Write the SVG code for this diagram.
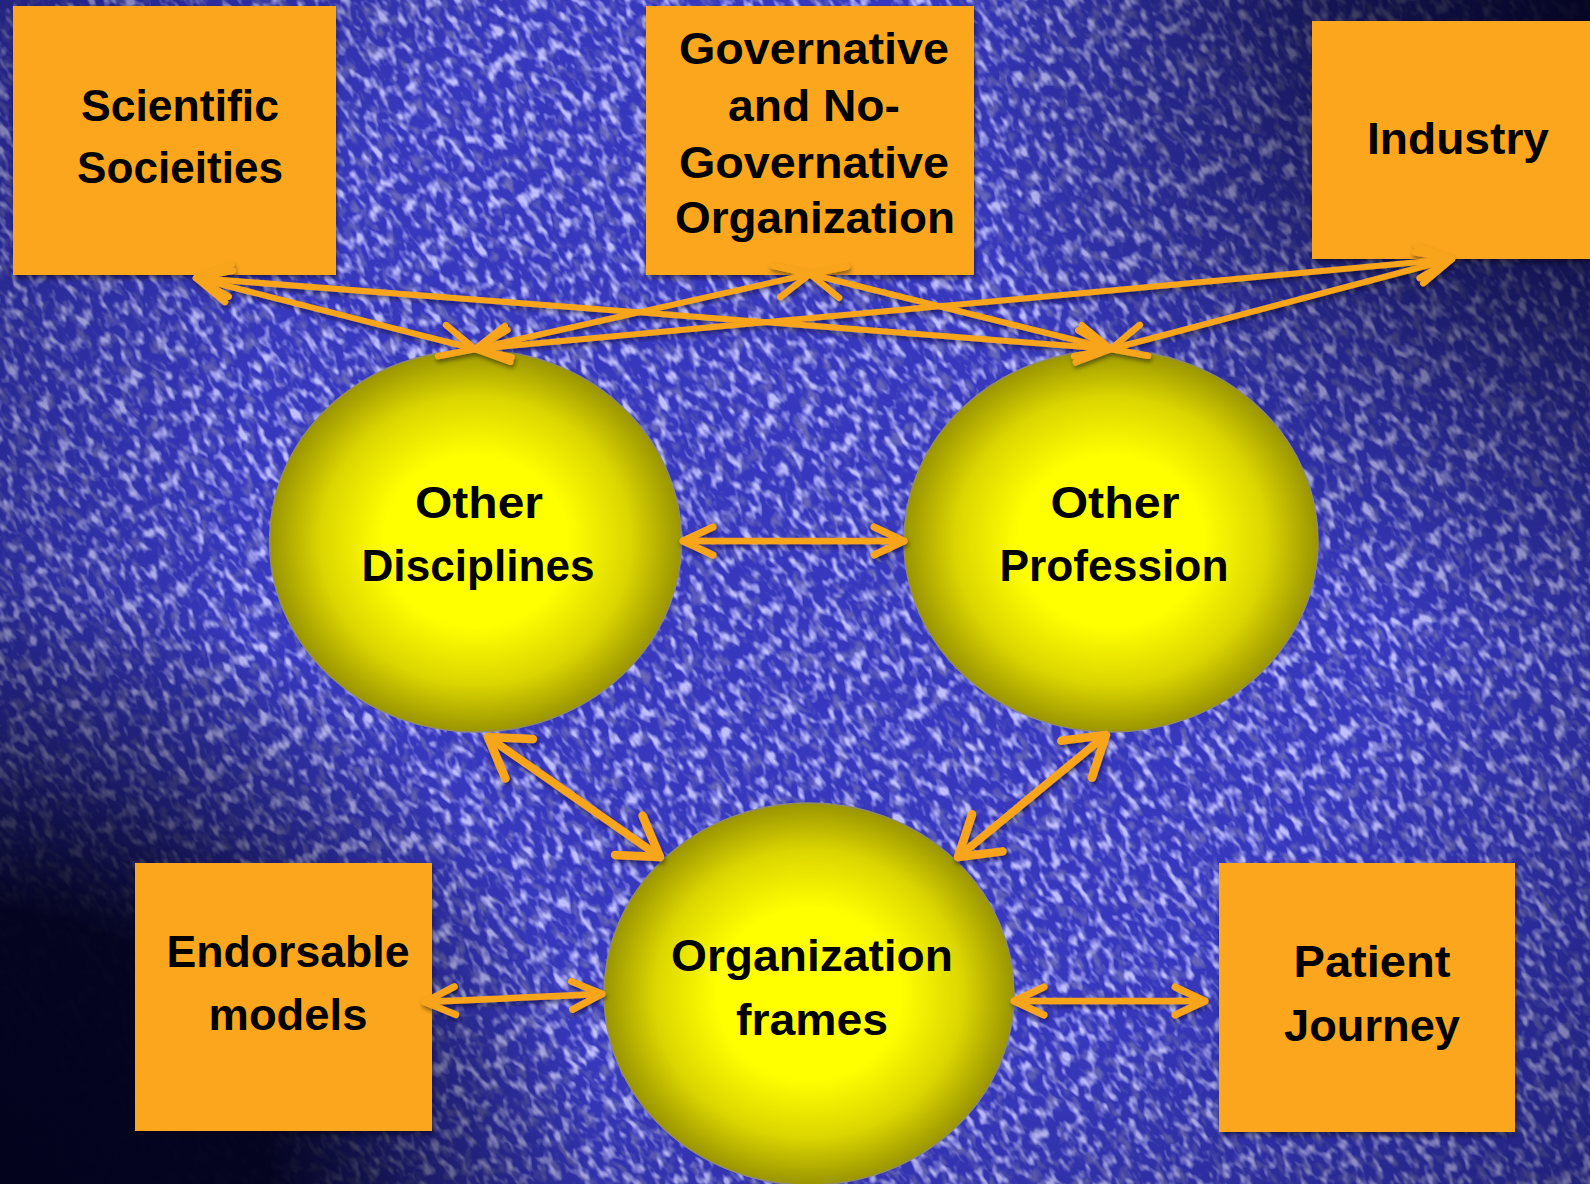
<svg xmlns="http://www.w3.org/2000/svg" width="1590" height="1184" viewBox="0 0 1590 1184">
  <defs>
    <style>
      .box { fill: #FBA61F; filter: url(#shadow); }
      .ell { stroke: #8f8c6a; stroke-width: 1.5; }
      .lbl { font-family: "Liberation Sans", Arial, sans-serif; font-weight: bold; font-size: 45px; fill: #000; text-anchor: middle; }
      .ar { fill: none; stroke: #F9A51E; stroke-linecap: round; stroke-linejoin: round; }
      .thin { stroke-width: 6; marker-start: url(#hm); marker-end: url(#hm); }
      .mid { stroke-width: 6.5; marker-start: url(#hs); marker-end: url(#hs); }
      .thick { stroke-width: 8; marker-start: url(#hl); marker-end: url(#hl); }
    </style>
    <filter id="shadow" x="-10%" y="-10%" width="120%" height="130%">
      <feDropShadow dx="1" dy="3" stdDeviation="2.5" flood-color="#000018" flood-opacity="0.55"/>
    </filter>
    <filter id="ashadow" x="-10%" y="-10%" width="120%" height="130%">
      <feDropShadow dx="1" dy="3" stdDeviation="2" flood-color="#000018" flood-opacity="0.45"/>
    </filter>
    <filter id="lite" x="0" y="0" width="1" height="1">
      <feTurbulence type="fractalNoise" baseFrequency="0.13 0.065" numOctaves="2" seed="11" result="n"/>
      <feColorMatrix in="n" type="matrix" values="0 0 0 0 0.52  0 0 0 0 0.52  0 0 0 0 1  3.6 0 0 0 -1.75"/>
    </filter>
    <filter id="dark" x="0" y="0" width="1" height="1">
      <feTurbulence type="fractalNoise" baseFrequency="0.11 0.06" numOctaves="2" seed="4" result="n"/>
      <feColorMatrix in="n" type="matrix" values="0 0 0 0 0.13  0 0 0 0 0.13  0 0 0 0 0.5  0 -4 0 0 1.95"/>
    </filter>
    <radialGradient id="gEll" cx="50%" cy="50%" r="50%">
      <stop offset="0" stop-color="#ffff00"/>
      <stop offset="0.45" stop-color="#ffff00"/>
      <stop offset="0.75" stop-color="#dcd600"/>
      <stop offset="1" stop-color="#9a9500"/>
    </radialGradient>
    <radialGradient id="vBL" gradientUnits="userSpaceOnUse" cx="0" cy="1184" r="600">
      <stop offset="0" stop-color="#03031e" stop-opacity="1"/>
      <stop offset="0.45" stop-color="#03031e" stop-opacity="0.97"/>
      <stop offset="0.7" stop-color="#03031e" stop-opacity="0.45"/>
      <stop offset="1" stop-color="#03031e" stop-opacity="0"/>
    </radialGradient>
    <radialGradient id="vTR" gradientUnits="userSpaceOnUse" cx="1590" cy="0" r="650">
      <stop offset="0" stop-color="#03031e" stop-opacity="0.95"/>
      <stop offset="0.4" stop-color="#03031e" stop-opacity="0.6"/>
      <stop offset="1" stop-color="#03031e" stop-opacity="0"/>
    </radialGradient>
    <radialGradient id="vAll" gradientUnits="userSpaceOnUse" cx="820" cy="520" r="1050">
      <stop offset="0.55" stop-color="#05052a" stop-opacity="0"/>
      <stop offset="1" stop-color="#05052a" stop-opacity="0.5"/>
    </radialGradient>
    <marker id="hm" markerUnits="userSpaceOnUse" orient="auto-start-reverse" overflow="visible" markerWidth="10" markerHeight="10" refX="0" refY="0">
      <path d="M-34,-16 L0,0 L-34,16" fill="none" stroke="#F9A51E" stroke-width="6.5" stroke-linecap="round" stroke-linejoin="round"/>
    </marker>
    <marker id="hs" markerUnits="userSpaceOnUse" orient="auto-start-reverse" overflow="visible" markerWidth="10" markerHeight="10" refX="0" refY="0">
      <path d="M-30,-14 L0,0 L-30,14" fill="none" stroke="#F9A51E" stroke-width="7" stroke-linecap="round" stroke-linejoin="round"/>
    </marker>
    <marker id="hl" markerUnits="userSpaceOnUse" orient="auto-start-reverse" overflow="visible" markerWidth="10" markerHeight="10" refX="0" refY="0">
      <path d="M-38,-24 L0,0 L-38,24" fill="none" stroke="#F9A51E" stroke-width="8.5" stroke-linecap="round" stroke-linejoin="round"/>
    </marker>
  </defs>

  <g id="background">
    <rect x="0" y="0" width="1590" height="1184" fill="#3838be"/>
    <g transform="rotate(-35 795 592)">
      <rect x="-700" y="-700" width="2990" height="2584" fill="#000" filter="url(#dark)"/>
      <rect x="-700" y="-700" width="2990" height="2584" fill="#fff" filter="url(#lite)"/>
    </g>
    <rect x="0" y="0" width="1590" height="1184" fill="url(#vAll)"/>
    <rect x="0" y="0" width="1590" height="1184" fill="url(#vTR)"/>
    <rect x="0" y="0" width="1590" height="1184" fill="url(#vBL)"/>
  </g>

  <g id="node-scientific-societies">
    <rect class="box" x="13" y="6" width="323" height="269"/>
    <text class="lbl" x="180" y="121" textLength="198" lengthAdjust="spacingAndGlyphs">Scientific</text>
    <text class="lbl" x="180" y="183" textLength="206" lengthAdjust="spacingAndGlyphs">Socieities</text>
  </g>

  <g id="node-governative">
    <rect class="box" x="646" y="6" width="328" height="269"/>
    <text class="lbl" x="814" y="64" textLength="270" lengthAdjust="spacingAndGlyphs">Governative</text>
    <text class="lbl" x="814" y="121" textLength="172" lengthAdjust="spacingAndGlyphs">and No-</text>
    <text class="lbl" x="814" y="178" textLength="270" lengthAdjust="spacingAndGlyphs">Governative</text>
    <text class="lbl" x="815" y="233" textLength="280" lengthAdjust="spacingAndGlyphs">Organization</text>
  </g>

  <g id="node-industry">
    <rect class="box" x="1312" y="21" width="290" height="238"/>
    <text class="lbl" x="1458" y="154" textLength="182" lengthAdjust="spacingAndGlyphs">Industry</text>
  </g>

  <g id="node-endorsable-models">
    <rect class="box" x="135" y="863" width="297" height="268"/>
    <text class="lbl" x="288" y="967" textLength="243" lengthAdjust="spacingAndGlyphs">Endorsable</text>
    <text class="lbl" x="288" y="1030" textLength="159" lengthAdjust="spacingAndGlyphs">models</text>
  </g>

  <g id="node-patient-journey">
    <rect class="box" x="1219" y="863" width="296" height="269"/>
    <text class="lbl" x="1372" y="977" textLength="157" lengthAdjust="spacingAndGlyphs">Patient</text>
    <text class="lbl" x="1372" y="1041" textLength="176" lengthAdjust="spacingAndGlyphs">Journey</text>
  </g>

  <g id="node-other-disciplines">
    <ellipse class="ell" cx="475.5" cy="541" rx="206" ry="191" fill="url(#gEll)"/>
    <text class="lbl" x="479" y="518" textLength="128" lengthAdjust="spacingAndGlyphs">Other</text>
    <text class="lbl" x="478" y="581" textLength="233" lengthAdjust="spacingAndGlyphs">Disciplines</text>
  </g>

  <g id="node-other-profession">
    <ellipse class="ell" cx="1111" cy="541" rx="207" ry="191" fill="url(#gEll)"/>
    <text class="lbl" x="1115" y="518" textLength="129" lengthAdjust="spacingAndGlyphs">Other</text>
    <text class="lbl" x="1114" y="581" textLength="229" lengthAdjust="spacingAndGlyphs">Profession</text>
  </g>

  <g id="node-organization-frames">
    <ellipse class="ell" cx="809" cy="994" rx="205" ry="191" fill="url(#gEll)"/>
    <text class="lbl" x="812" y="971" textLength="282" lengthAdjust="spacingAndGlyphs">Organization</text>
    <text class="lbl" x="812" y="1035" textLength="152" lengthAdjust="spacingAndGlyphs">frames</text>
  </g>

  <g id="connectors" filter="url(#ashadow)">
    <line class="ar thin" x1="196" y1="278" x2="475" y2="349"/>
    <line class="ar thin" x1="196" y1="278" x2="1111" y2="349"/>
    <line class="ar thin" x1="810" y1="274" x2="475" y2="349"/>
    <line class="ar thin" x1="810" y1="274" x2="1111" y2="349"/>
    <line class="ar thin" x1="1452" y1="259" x2="475" y2="349"/>
    <line class="ar thin" x1="1452" y1="259" x2="1111" y2="349"/>
    <line class="ar mid" x1="683" y1="541" x2="904" y2="541"/>
    <line class="ar thick" x1="488" y1="737" x2="660" y2="857"/>
    <line class="ar thick" x1="1106" y1="735" x2="958" y2="857"/>
    <line class="ar mid" x1="425" y1="1002" x2="602" y2="994"/>
    <line class="ar mid" x1="1014" y1="1001" x2="1205" y2="1001"/>
  </g>
</svg>
